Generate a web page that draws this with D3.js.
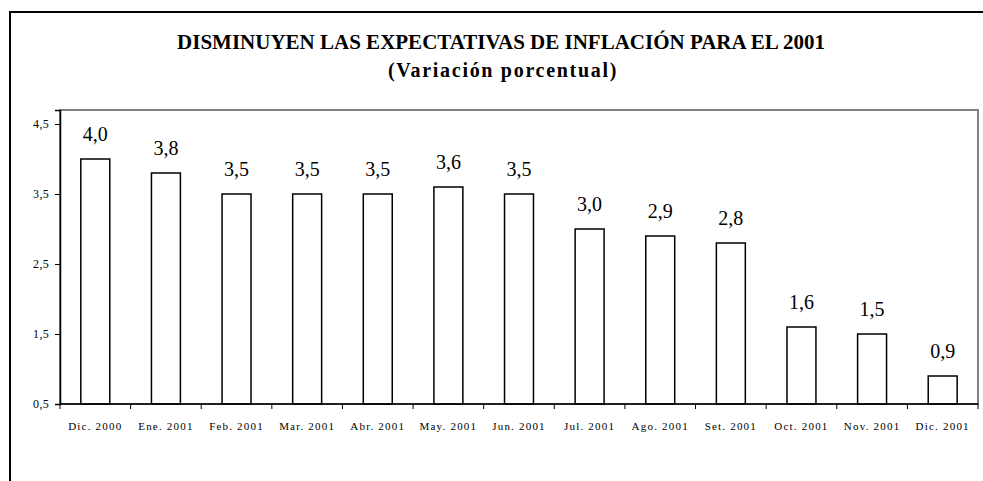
<!DOCTYPE html>
<html>
<head>
<meta charset="utf-8">
<script src="https://cdn.jsdelivr.net/npm/d3@7"></script>
<style>
  body { margin: 0; background: #fff; }
</style>
</head>
<body>
<svg id="chart" width="983" height="481"></svg>
<script>
// data
var months = ["Dic. 2000", "Ene. 2001", "Feb. 2001", "Mar. 2001", "Abr. 2001", "May. 2001",
              "Jun. 2001", "Jul. 2001", "Ago. 2001", "Set. 2001", "Oct. 2001", "Nov. 2001", "Dic. 2001"];
var expectativa = [4.0, 3.8, 3.5, 3.5, 3.5, 3.6, 3.5, 3.0, 2.9, 2.8, 1.6, 1.5, 0.9];
var yTicks = [0.5, 1.5, 2.5, 3.5, 4.5];

var title = "DISMINUYEN LAS EXPECTATIVAS DE INFLACIÓN PARA EL 2001";
var subtitle = "(Variación porcentual)";

var serif = "'Liberation Serif', 'Times New Roman', serif";
var svg = d3.select("#chart");
var margin = {left: 60, top: 110, right: 978, bottom: 404};

function fmt(v) {
    return v.toFixed(1).replace(".", ",");
}

// outer frame (runs off the picture at right and bottom)
svg.append("rect")
    .attr("x", 10).attr("y", 12)
    .attr("width", 1000).attr("height", 600)
    .attr("fill", "none")
    .attr("stroke", "#000")
    .attr("stroke-width", 2);

svg.append("text")
    .attr("x", 501).attr("y", 49)
    .attr("text-anchor", "middle")
    .style("font-family", serif)
    .style("font-size", "21px")
    .style("font-weight", "bold")
    .text(title);

svg.append("text")
    .attr("x", 503).attr("y", 77)
    .attr("text-anchor", "middle")
    .style("font-family", serif)
    .style("font-size", "20px")
    .style("font-weight", "bold")
    .style("letter-spacing", "1.7px")
    .text(subtitle);

var x = d3.scaleBand()
    .domain(months)
    .range([margin.left, margin.right])
    .paddingInner(0.59)
    .paddingOuter(0.295);

var y = d3.scaleLinear()
    .domain([0.5, 4.7])
    .range([margin.bottom, margin.top]);

// plot area border (top/right grey)
svg.append("rect")
    .attr("x", margin.left).attr("y", margin.top)
    .attr("width", margin.right - margin.left)
    .attr("height", margin.bottom - margin.top)
    .attr("fill", "none")
    .attr("stroke", "#808080")
    .attr("stroke-width", 2);

// bars
svg.selectAll("rect.bar")
    .data(expectativa).enter()
    .append("rect")
    .attr("class", "bar")
    .attr("x", function(d, i) { return x(months[i]); })
    .attr("y", function(d) { return y(d); })
    .attr("width", x.bandwidth())
    .attr("height", function(d) { return y(0.5) - y(d); })
    .attr("fill", "#fff")
    .attr("stroke", "#000")
    .attr("stroke-width", 1.5);

// value labels
svg.selectAll("text.val")
    .data(expectativa).enter()
    .append("text")
    .attr("class", "val")
    .attr("x", function(d, i) { return x(months[i]) + x.bandwidth() / 2; })
    .attr("y", function(d) { return y(d) - 18; })
    .attr("text-anchor", "middle")
    .style("font-family", serif)
    .style("font-size", "20px")
    .text(fmt);

// y axis
var yAxis = d3.axisLeft(y)
    .tickValues(yTicks)
    .tickSize(5)
    .tickPadding(6)
    .tickFormat(fmt);

svg.append("g")
    .attr("transform", "translate(" + margin.left + ",0)")
    .call(yAxis)
    .call(function(g) {
        g.select(".domain").attr("stroke", "#000").attr("stroke-width", 1.5);
        g.selectAll("text")
            .style("font-family", serif)
            .style("font-size", "12px")
            .style("letter-spacing", "0.3px")
            .attr("fill", "#000");
    });

// x axis: tick marks sit between categories
var edges = d3.range(months.length + 1).map(function(i) {
    return margin.left + i * x.step();
});

svg.append("line")
    .attr("x1", margin.left).attr("x2", margin.right)
    .attr("y1", margin.bottom).attr("y2", margin.bottom)
    .attr("stroke", "#000")
    .attr("stroke-width", 1.5);

svg.selectAll("line.xt")
    .data(edges).enter()
    .append("line")
    .attr("class", "xt")
    .attr("x1", function(d) { return d; })
    .attr("x2", function(d) { return d; })
    .attr("y1", margin.bottom)
    .attr("y2", margin.bottom + 5)
    .attr("stroke", "#000")
    .attr("stroke-width", 1);

svg.selectAll("text.xl")
    .data(months).enter()
    .append("text")
    .attr("class", "xl")
    .attr("x", function(d) { return x(d) + x.bandwidth() / 2; })
    .attr("y", 430)
    .attr("text-anchor", "middle")
    .style("font-family", serif)
    .style("font-size", "11px")
    .style("letter-spacing", "1.2px")
    .text(function(d) { return d; });
</script>
</body>
</html>
